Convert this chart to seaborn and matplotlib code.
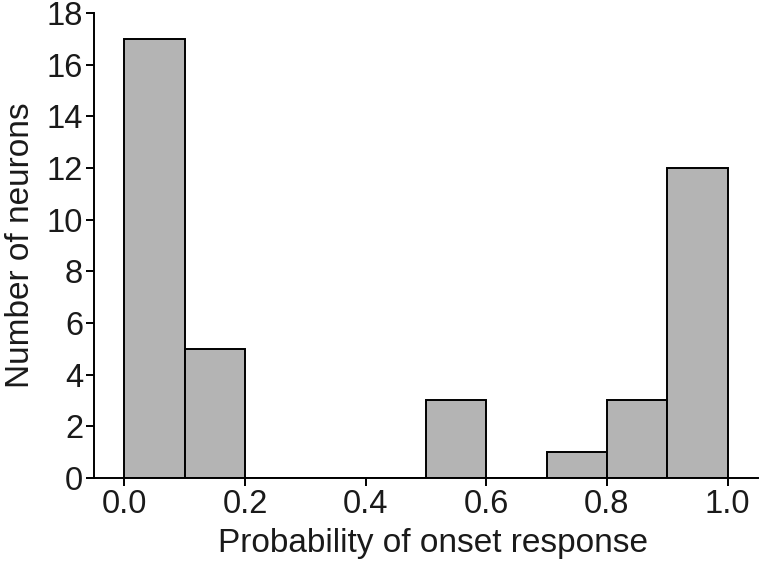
import numpy as np
import pandas as pd
import seaborn as sns
import matplotlib.pyplot as plt

# histogram (bin width 0.1)
bin_edges = [0.0, 0.1, 0.2, 0.3, 0.4, 0.5, 0.6, 0.7, 0.8, 0.9, 1.0]
bin_centers = [0.05, 0.15, 0.25, 0.35, 0.45, 0.55, 0.65, 0.75, 0.85, 0.95]
counts = [17, 5, 0, 0, 0, 3, 0, 1, 3, 12]

df = pd.DataFrame({'prob': bin_centers, 'n': counts})

sns.set_style('ticks')
plt.rcParams['font.family'] = ['Liberation Sans', 'DejaVu Sans']

fig = plt.figure(figsize=(7.6, 5.63), dpi=100)
ax = fig.add_axes([0.124, 0.151, 0.873, 0.826])
sns.histplot(data=df, x='prob', weights='n', bins=bin_edges, color='#b4b4b4',
             alpha=1, edgecolor='black', linewidth=1.4, ax=ax)

ax.set_xlim(-0.05, 1.05)
ax.set_ylim(0, 18)
ax.set_xticks(np.arange(0, 1.01, 0.2))
ax.set_xticklabels(['0.0', '0.2', '0.4', '0.6', '0.8', '1.0'])
ax.set_yticks(range(0, 19, 2))
ax.tick_params(labelsize=23.5, width=1.4, length=6, pad=2, color='black', labelcolor='#1a1a1a')
ax.set_xlabel('Probability of onset response', fontsize=24, color='#1a1a1a', labelpad=7)
ax.xaxis.set_label_coords(0.51, -0.108)
ax.set_ylabel('Number of neurons', fontsize=24, color='#1a1a1a', labelpad=8)
for side in ['top', 'right']:
    ax.spines[side].set_visible(False)
for side in ['left', 'bottom']:
    ax.spines[side].set_linewidth(1.4)
    ax.spines[side].set_color('black')

plt.savefig('out.png', dpi=100)
